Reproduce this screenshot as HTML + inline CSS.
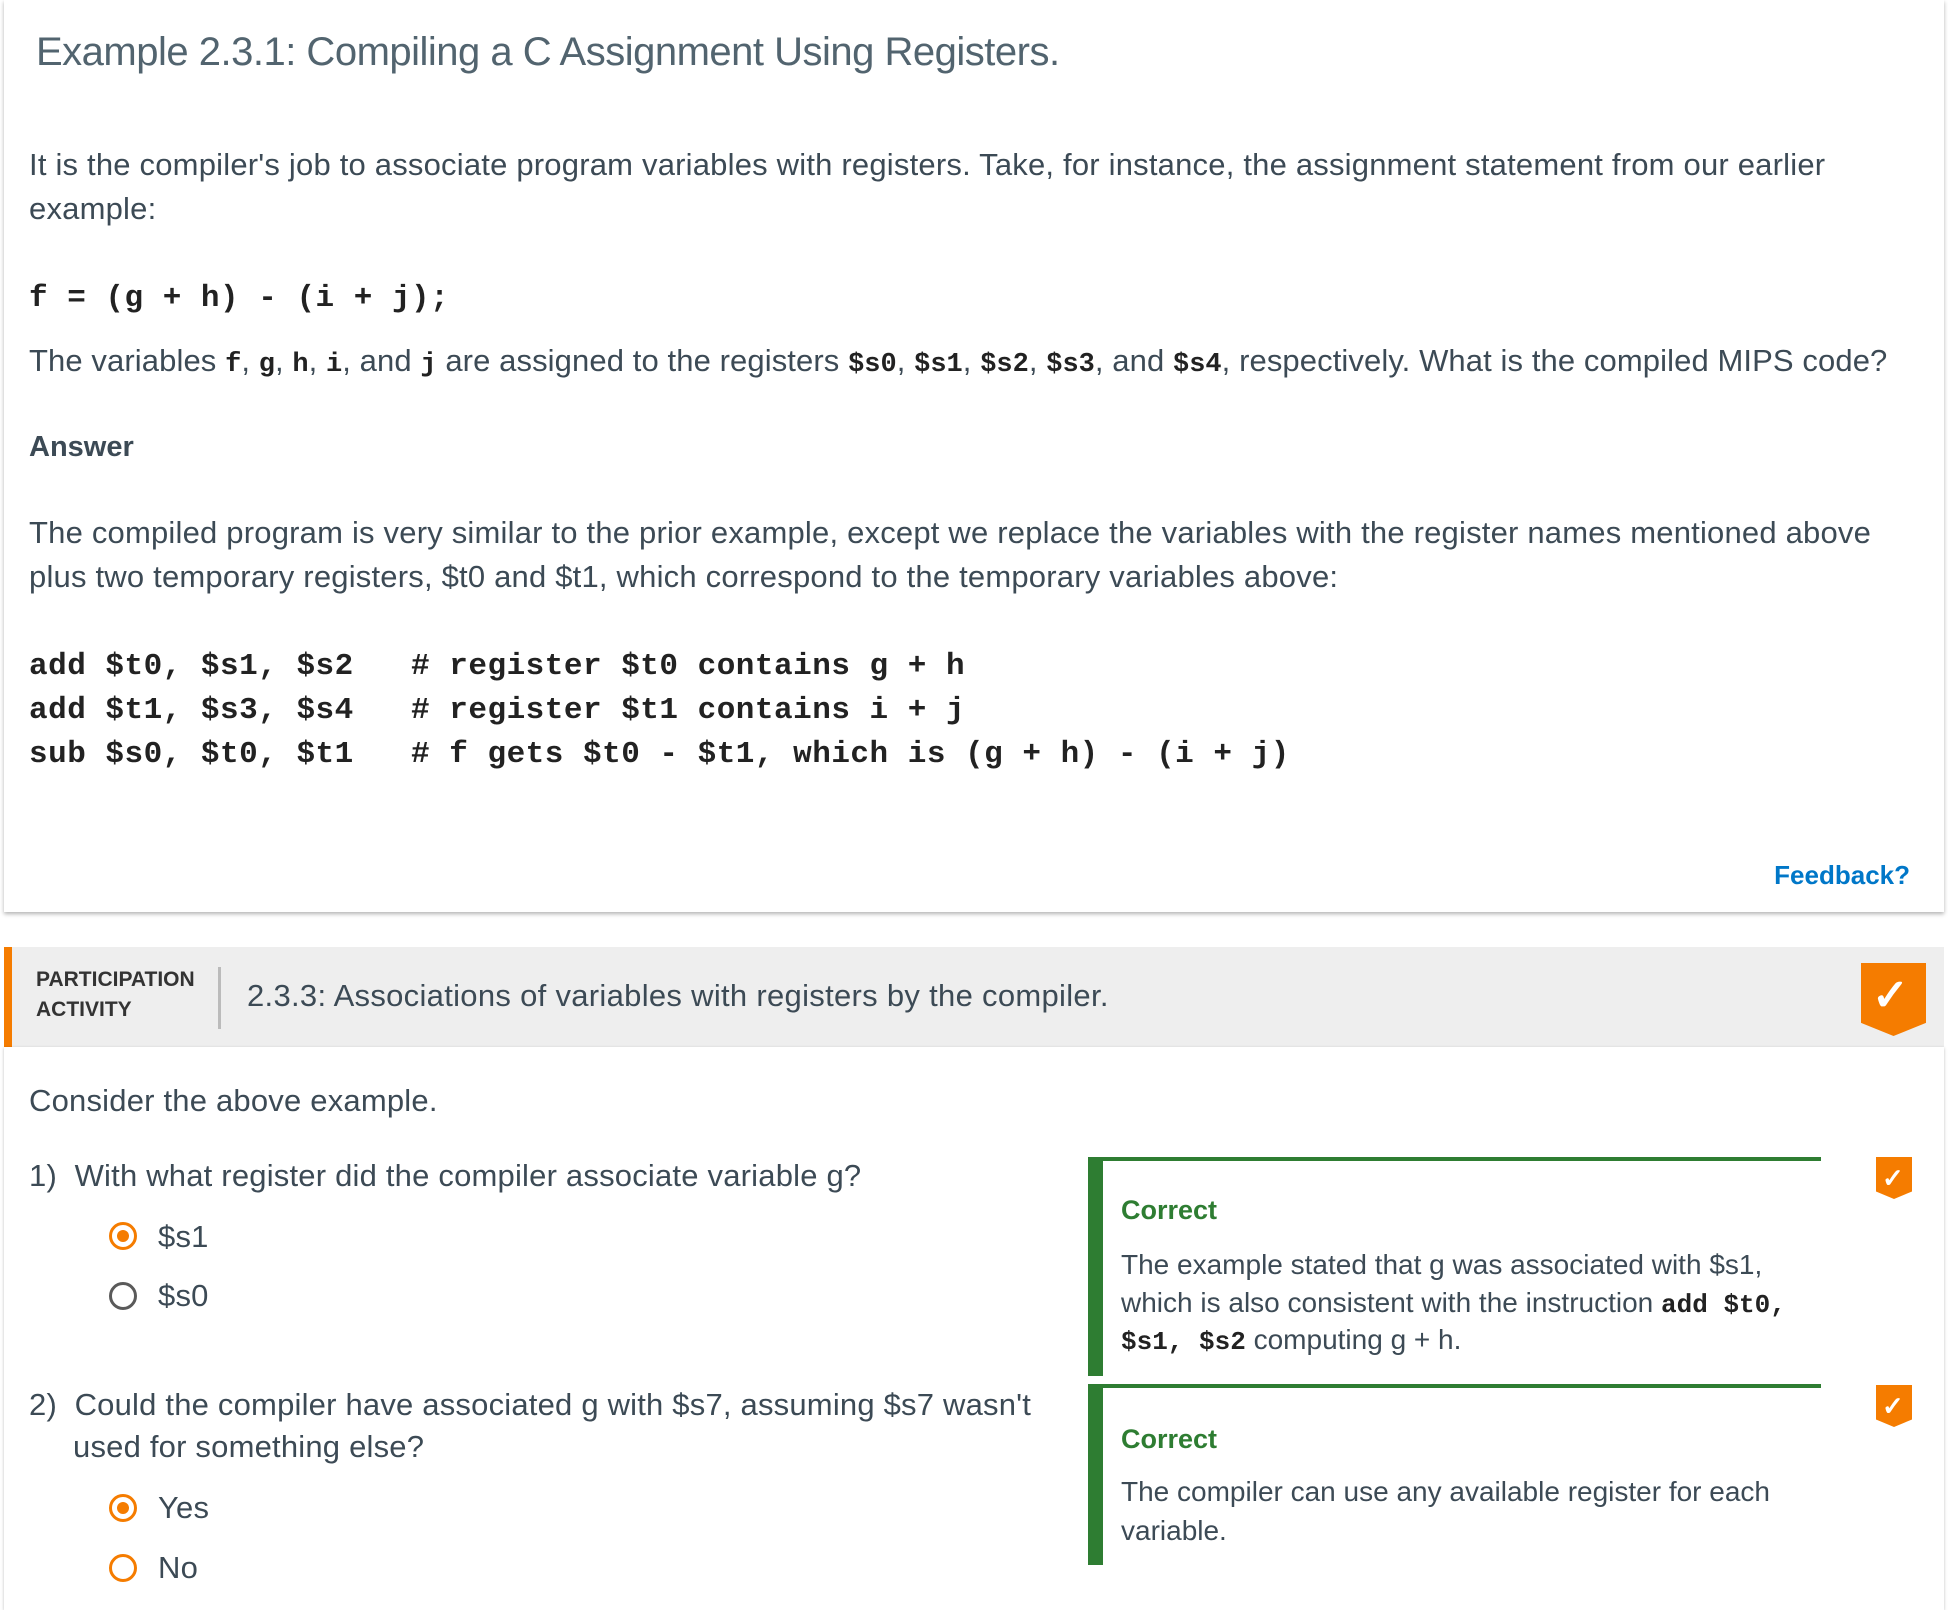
<!DOCTYPE html>
<html><head><meta charset="utf-8"><style>
body{margin:0;width:1948px;height:1610px;background:#fff;position:relative;overflow:hidden;font-family:"Liberation Sans",sans-serif;color:#3c4a55}
.t{position:absolute;white-space:pre;line-height:40px;height:40px}
.p{font-size:31px;letter-spacing:0.2px}
.m{font-family:"Liberation Mono",monospace;font-weight:bold;font-size:31px;color:#222;letter-spacing:0.5px}
.r{position:absolute;width:22px;height:22px;border-radius:50%;border:3px solid #5a5a5a;box-sizing:content-box}
.r.on{border-color:#f57c00}
.r.on::after{content:"";position:absolute;left:5px;top:5px;width:12px;height:12px;border-radius:50%;background:#f57c00}
.r.o{border-color:#f57c00}
.fb{position:absolute;left:1088px;width:733px;border-left:15px solid #2e7d32;border-top:4px solid #2e7d32;box-sizing:border-box}
.cor{color:#2e7d32;font-weight:bold;font-size:27px}
.bdg{position:absolute;background:#f57c00;clip-path:polygon(0 0,100% 0,100% 82%,50% 100%,0 82%)}
.fp{font-size:28px;letter-spacing:0px}
</style></head><body>
<div style="position:absolute;left:4px;top:0;width:1940px;height:912px;box-shadow:0 2px 4px rgba(0,0,0,.3);background:#fff"></div>
<div class="t" style="left:36px;top:32px;font-size:40px;color:#52646f;letter-spacing:-0.5px">Example 2.3.1: Compiling a C Assignment Using Registers.</div>
<div class="t p" style="left:29px;top:145px">It is the compiler's job to associate program variables with registers. Take, for instance, the assignment statement from our earlier</div>
<div class="t p" style="left:29px;top:189px">example:</div>
<div class="t m" style="left:29px;top:279px">f = (g + h) - (i + j);</div>
<div class="t p" style="left:29px;top:341px;letter-spacing:0.1px">The variables <span class="m" style="font-size:27px;letter-spacing:0">f</span>, <span class="m" style="font-size:27px;letter-spacing:0">g</span>, <span class="m" style="font-size:27px;letter-spacing:0">h</span>, <span class="m" style="font-size:27px;letter-spacing:0">i</span>, and <span class="m" style="font-size:27px;letter-spacing:0">j</span> are assigned to the registers <span class="m" style="font-size:27px;letter-spacing:0">$s0</span>, <span class="m" style="font-size:27px;letter-spacing:0">$s1</span>, <span class="m" style="font-size:27px;letter-spacing:0">$s2</span>, <span class="m" style="font-size:27px;letter-spacing:0">$s3</span>, and <span class="m" style="font-size:27px;letter-spacing:0">$s4</span>, respectively. What is the compiled MIPS code?</div>
<div class="t" style="left:29px;top:427px;font-size:29px;font-weight:bold">Answer</div>
<div class="t p" style="left:29px;top:513px">The compiled program is very similar to the prior example, except we replace the variables with the register names mentioned above</div>
<div class="t p" style="left:29px;top:557px">plus two temporary registers, $t0 and $t1, which correspond to the temporary variables above:</div>
<div class="t m" style="left:29px;top:647px">add $t0, $s1, $s2   # register $t0 contains g + h</div>
<div class="t m" style="left:29px;top:691px">add $t1, $s3, $s4   # register $t1 contains i + j</div>
<div class="t m" style="left:29px;top:735px">sub $s0, $t0, $t1   # f gets $t0 - $t1, which is (g + h) - (i + j)</div>
<div class="t" style="right:38px;top:855px;font-size:26px;font-weight:bold;color:#0077c8">Feedback?</div>

<div style="position:absolute;left:4px;top:947px;width:1940px;height:100px;background:#eeeeee"></div>
<div style="position:absolute;left:4px;top:947px;width:8px;height:100px;background:#f57c00"></div>
<div style="position:absolute;left:4px;top:1047px;width:1940px;height:563px;box-shadow:0 1px 3px rgba(0,0,0,.25)"></div>
<div class="t" style="left:36px;top:960px;font-size:21px;font-weight:bold;color:#333">PARTICIPATION</div>
<div class="t" style="left:36px;top:990px;font-size:21px;font-weight:bold;color:#333">ACTIVITY</div>
<div style="position:absolute;left:218px;top:967px;width:3px;height:62px;background:#bbb"></div>
<div class="t p" style="left:247px;top:976px;letter-spacing:0.3px">2.3.3: Associations of variables with registers by the compiler.</div>
<div class="bdg" style="left:1861px;top:963px;width:65px;height:73px"></div>
<div class="t" style="left:1872px;top:976px;color:#fff;font-size:44px;font-weight:bold">✓</div>

<div class="t p" style="left:29px;top:1081px">Consider the above example.</div>
<div class="t p" style="left:29px;top:1156px">1)  With what register did the compiler associate variable g?</div>
<div class="r on" style="left:109px;top:1222px"></div>
<div class="t p" style="left:158px;top:1217px">$s1</div>
<div class="r" style="left:109px;top:1282px"></div>
<div class="t p" style="left:158px;top:1276px">$s0</div>
<div class="t p" style="left:29px;top:1385px">2)  Could the compiler have associated g with $s7, assuming $s7 wasn't</div>
<div class="t p" style="left:73px;top:1427px">used for something else?</div>
<div class="r on" style="left:109px;top:1494px"></div>
<div class="t p" style="left:158px;top:1488px">Yes</div>
<div class="r o" style="left:109px;top:1554px"></div>
<div class="t p" style="left:158px;top:1548px">No</div>

<div class="fb" style="top:1157px;height:219px"></div>
<div class="t cor" style="left:1121px;top:1190px">Correct</div>
<div class="t fp" style="left:1121px;top:1245px">The example stated that g was associated with $s1,</div>
<div class="t fp" style="left:1121px;top:1283px">which is also consistent with the instruction <span class="m" style="font-size:26px;letter-spacing:0">add $t0,</span></div>
<div class="t fp" style="left:1121px;top:1320px"><span class="m" style="font-size:26px;letter-spacing:0">$s1, $s2</span> computing g + h.</div>
<div class="fb" style="top:1384px;height:181px"></div>
<div class="t cor" style="left:1121px;top:1419px">Correct</div>
<div class="t fp" style="left:1121px;top:1472px">The compiler can use any available register for each</div>
<div class="t fp" style="left:1121px;top:1511px">variable.</div>
<div class="bdg" style="left:1876px;top:1157px;width:36px;height:42px"></div>
<div class="t" style="left:1882px;top:1158px;color:#fff;font-size:26px;font-weight:bold">✓</div>
<div class="bdg" style="left:1876px;top:1385px;width:36px;height:42px"></div>
<div class="t" style="left:1882px;top:1386px;color:#fff;font-size:26px;font-weight:bold">✓</div>
</body></html>
